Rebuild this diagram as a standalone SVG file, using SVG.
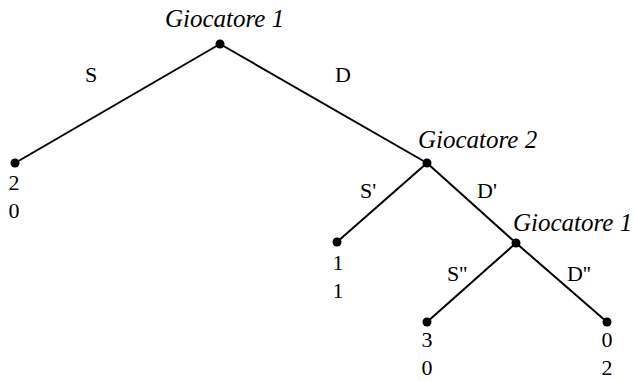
<svg xmlns="http://www.w3.org/2000/svg" width="633" height="381" viewBox="0 0 633 381">
<style>
.e{stroke:#000;stroke-width:2;fill:none}
.d{fill:#000}
</style>
<rect width="633" height="381" fill="#fff"/>
<g id="connectors">
<line class="e" x1="220" y1="44" x2="15" y2="163"/>
<line class="e" x1="220" y1="44" x2="427" y2="163"/>
<line class="e" x1="427" y1="163" x2="337" y2="242"/>
<line class="e" x1="427" y1="163" x2="516" y2="243"/>
<line class="e" x1="516" y1="243" x2="427" y2="322"/>
<line class="e" x1="516" y1="243" x2="607" y2="322"/>
<text font-family="Liberation Serif" font-size="22" x="85" y="82">S</text>
<text font-family="Liberation Serif" font-size="22" x="335" y="82">D</text>
<text font-family="Liberation Serif" font-size="22" x="360" y="198">S'</text>
<text font-family="Liberation Serif" font-size="22" x="477" y="198">D'</text>
<text font-family="Liberation Serif" font-size="22" x="447" y="281">S''</text>
<text font-family="Liberation Serif" font-size="22" x="567" y="281">D''</text>
</g>
<g id="n1"><circle class="d" cx="220" cy="44" r="4.5"/><text font-family="Liberation Serif" font-style="italic" font-size="25" x="165" y="27">Giocatore 1</text></g>
<g id="n2"><circle class="d" cx="427" cy="163" r="4.5"/><text font-family="Liberation Serif" font-style="italic" font-size="25" x="418" y="148">Giocatore 2</text></g>
<g id="n3"><circle class="d" cx="516" cy="243" r="4.5"/><text font-family="Liberation Serif" font-style="italic" font-size="25" x="513" y="231">Giocatore 1</text></g>
<g id="l1"><circle class="d" cx="15" cy="163" r="4.5"/><text font-family="Liberation Serif" font-size="22" text-anchor="middle" x="14" y="190">2</text><text font-family="Liberation Serif" font-size="22" text-anchor="middle" x="14" y="218">0</text></g>
<g id="l2"><circle class="d" cx="337" cy="242" r="4.5"/><text font-family="Liberation Serif" font-size="22" text-anchor="middle" x="338" y="270">1</text><text font-family="Liberation Serif" font-size="22" text-anchor="middle" x="338" y="298">1</text></g>
<g id="l3"><circle class="d" cx="427" cy="322" r="4.5"/><text font-family="Liberation Serif" font-size="22" text-anchor="middle" x="427" y="347">3</text><text font-family="Liberation Serif" font-size="22" text-anchor="middle" x="427" y="375">0</text></g>
<g id="l4"><circle class="d" cx="607" cy="322" r="4.5"/><text font-family="Liberation Serif" font-size="22" text-anchor="middle" x="607" y="347">0</text><text font-family="Liberation Serif" font-size="22" text-anchor="middle" x="607" y="375">2</text></g>
</svg>
